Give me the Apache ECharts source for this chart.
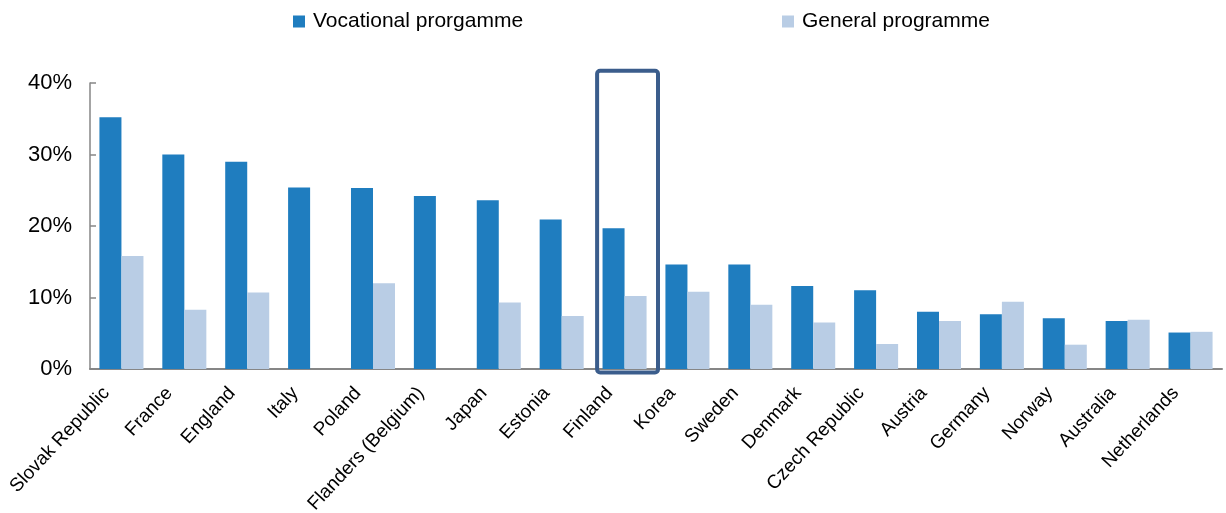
<!DOCTYPE html>
<html>
<head>
<meta charset="utf-8">
<script src="https://cdn.jsdelivr.net/npm/echarts@6/dist/echarts.min.js"></script>
<style>
	html, body { margin: 0; padding: 0; background: #fff; }
	#chart { width: 1226px; height: 513px; }
</style>
</head>
<body>
<div id="chart"></div>
<script>
// 国家
var countries = ['Slovak Republic', 'France', 'England', 'Italy', 'Poland', 'Flanders (Belgium)', 'Japan', 'Estonia', 'Finland',
	'Korea', 'Sweden', 'Denmark', 'Czech Republic', 'Austria', 'Germany', 'Norway', 'Australia', 'Netherlands']
// 职业教育
var vocational = [35.2, 30.0, 29.0, 25.4, 25.3, 24.2, 23.6, 20.9, 19.7, 14.6, 14.6, 11.6, 11.0, 8.0, 7.65, 7.1, 6.7, 5.1]
// 普通教育 (Italy, Flanders 无数据)
var general = [15.8, 8.3, 10.7, null, 12.0, null, 9.3, 7.4, 10.2, 10.8, 9.0, 6.5, 3.5, 6.7, 9.4, 3.4, 6.9, 5.2]
var highlight = 'Finland'

var font = 'Liberation Sans, Arial, sans-serif'
var chart = echarts.init(document.getElementById('chart'))

var option = {
	animation: false,
	textStyle: { fontFamily: font },
	legend: [
		{
			data: ['Vocational prorgamme'],
			left: 288, top: 6,
			icon: 'rect', itemWidth: 12, itemHeight: 12,
			textStyle: { fontSize: 21, color: '#000', fontFamily: font, padding: [0, 0, 0, 3] }
		},
		{
			data: ['General programme'],
			left: 777, top: 6,
			icon: 'rect', itemWidth: 12, itemHeight: 12,
			textStyle: { fontSize: 21, color: '#000', fontFamily: font, padding: [0, 0, 0, 3] }
		}
	],
	grid: { left: 90, right: 4, top: 83, bottom: 144, outerBoundsMode: 'none', containLabel: false },
	xAxis: {
		type: 'category',
		data: countries,
		axisLine: { lineStyle: { color: '#868686', width: 2 } },
		axisTick: { show: false },
		axisLabel: {
			rotate: 47, fontSize: 19, color: '#000', margin: 5, interval: 0,
			fontFamily: font, padding: [0, 22, 0, 0]
		}
	},
	yAxis: {
		type: 'value',
		min: 0, max: 40, interval: 10,
		axisLine: { show: true, lineStyle: { color: '#868686', width: 1.5 } },
		axisTick: { show: true, inside: true, length: 6, lineStyle: { color: '#868686', width: 1.5 } },
		splitLine: { show: false },
		axisLabel: { formatter: '{value}%', fontSize: 22, color: '#000', margin: 18, fontFamily: font }
	},
	series: [
		{
			name: 'Vocational prorgamme',
			type: 'bar',
			data: vocational,
			barGap: '0%',
			barCategoryGap: '30%',
			itemStyle: { color: '#1f7dbf' }
		},
		{
			name: 'General programme',
			type: 'bar',
			data: general,
			itemStyle: { color: '#b9cde5' }
		}
	]
}
chart.setOption(option)

// 高亮框
var idx = countries.indexOf(highlight)
var cx = chart.convertToPixel({ xAxisIndex: 0 }, idx)
var band = chart.convertToPixel({ xAxisIndex: 0 }, 1) - chart.convertToPixel({ xAxisIndex: 0 }, 0)
var yTop = chart.convertToPixel({ yAxisIndex: 0 }, 41.7)
var yBottom = chart.convertToPixel({ yAxisIndex: 0 }, -0.5)
chart.setOption({
	graphic: [{
		type: 'rect',
		shape: { x: cx - band / 2 + 4, y: yTop, width: band - 2, height: yBottom - yTop, r: 3 },
		style: { fill: 'none', stroke: '#3b5d8c', lineWidth: 4 },
		z: 100
	}]
})
</script>
</body>
</html>
